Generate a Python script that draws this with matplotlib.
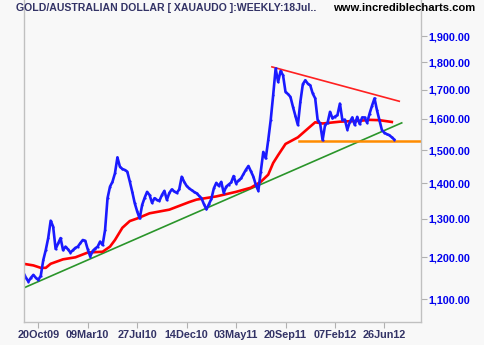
import numpy as np
import pandas as pd
import matplotlib
matplotlib.use('Agg')
import matplotlib.pyplot as plt
import matplotlib.dates as mdates
from matplotlib.ticker import FixedLocator, NullLocator

# weekly closes, first week is 6 weeks before 20Oct09
close = [1162, 1150, 1141, 1150, 1157, 1150, 1145, 1155, 1193, 1218,
         1249, 1295, 1279, 1221, 1235, 1249, 1218, 1227, 1220, 1212,
         1218, 1224, 1227, 1236, 1244, 1242, 1220, 1202, 1216, 1222,
         1227, 1240, 1231, 1270, 1357, 1390, 1404, 1429, 1477, 1449,
         1442, 1439, 1434, 1405, 1375, 1343, 1320, 1301, 1338, 1358,
         1375, 1366, 1344, 1357, 1352, 1350, 1366, 1378, 1352, 1372,
         1382, 1376, 1372, 1382, 1419, 1404, 1392, 1385, 1380, 1375,
         1371, 1364, 1357, 1340, 1326, 1340, 1355, 1385, 1401, 1392,
         1404, 1372, 1390, 1396, 1402, 1421, 1399, 1408, 1414, 1427,
         1440, 1451, 1435, 1419, 1395, 1378, 1434, 1494, 1474, 1531,
         1596, 1681, 1777, 1728, 1768, 1752, 1692, 1685, 1675, 1641,
         1610, 1580, 1658, 1720, 1734, 1722, 1716, 1687, 1670, 1596,
         1585, 1531, 1580, 1587, 1624, 1602, 1608, 1613, 1652, 1596,
         1598, 1565, 1590, 1605, 1580, 1607, 1583, 1605, 1605, 1587,
         1618, 1645, 1670, 1629, 1596, 1563, 1555, 1550, 1547, 1540,
         1533]

# moving average line, read at some weeks (week number from 20Oct09)
ma_wk = [-6, -2, 1, 3, 5, 10, 15, 20, 26, 29, 31, 34, 37, 40, 45, 53, 61, 64,
         72, 80, 86, 90, 93, 95, 97, 100, 105, 110, 112, 115, 122, 130, 134,
         138, 143]
ma_val = [1184, 1180, 1174, 1174, 1184, 1195, 1200, 1212, 1214, 1227, 1244,
          1276, 1294, 1301, 1315, 1325, 1346, 1353, 1362, 1375, 1387, 1404,
          1425, 1460, 1484, 1519, 1540, 1575, 1589, 1585, 1591, 1594, 1597,
          1596, 1590]

# trend lines (week, price)
green_wk = [-5.5, 147]
green_val = [1127, 1587]
red_wk = [94.5, 146]
red_val = [1783, 1660]
orange_wk = [105.5, 160]
orange_val = [1529, 1529]

yticks = [1100, 1200, 1300, 1400, 1500, 1600, 1700, 1800, 1900]
xlabels = ['20Oct09', '09Mar10', '27Jul10', '14Dec10', '03May11',
           '20Sep11', '07Feb12', '26Jun12']

start = pd.Timestamp('2009-10-20')
def wk(w):
    return [start + pd.Timedelta(weeks=float(i)) for i in w]

dates = wk(range(-6, -6 + len(close)))

bg = '#f8f8f8'
fig = plt.figure(figsize=(4.84, 3.45), dpi=100, facecolor=bg)
ax = fig.add_axes([24/484, 23/345, (420.5-24)/484, 1 - 23/345])
ax.set_facecolor(bg)

ax.plot(wk(green_wk), green_val, color='#2a952a', lw=1.2)
ax.plot(wk(orange_wk), orange_val, color='#ff8c00', lw=1.8)
ax.plot(wk(red_wk), red_val, color='#ff2020', lw=1.2)
ax.plot(wk(ma_wk), ma_val, color='#ff0000', lw=1.9)
ax.plot(dates, close, color='#1a1aff', lw=1.9, marker='o', ms=1.6,
        markeredgewidth=0)

ax.set_yscale('log')
ax.set_ylim(1049, 2049)
ax.set_xlim(start - pd.Timedelta(weeks=5.79), start + pd.Timedelta(weeks=154.6))

ax.yaxis.tick_right()
ax.yaxis.set_major_locator(FixedLocator(yticks))
ax.yaxis.set_minor_locator(NullLocator())
ax.set_yticklabels(['{:,.2f}'.format(v) for v in yticks],
                   fontweight='bold', fontsize=7.8, family='Liberation Sans')
ax.set_xticks(wk(range(0, 160, 20)))
ax.set_xticklabels(xlabels, fontweight='bold', fontsize=7.8,
                   family='Liberation Sans')
ax.tick_params(axis='both', colors='#b0b0b0', length=4, width=0.8, pad=2)
for t in ax.get_xticklabels():
    t.set_color('#333366')
for t in ax.get_yticklabels():
    t.set_color('#0000ee')

ax.spines['top'].set_visible(False)
for s in ['left', 'right', 'bottom']:
    ax.spines[s].set_color('#c0c0c0')
    ax.spines[s].set_linewidth(1.0)

fig.text(16/484, 1 - 8/345, 'GOLD/AUSTRALIAN DOLLAR [ XAUAUDO ]:WEEKLY:18Jul..',
         color='#333366', fontweight='bold', fontsize=7.6, va='center',
         family='Liberation Sans')
fig.text(475/484, 1 - 8/345, 'www.incrediblecharts.com', color='black',
         fontweight='bold', fontsize=8.1, va='center', ha='right',
         family='Liberation Sans')

fig.savefig('out.png', dpi=100, facecolor=bg)
